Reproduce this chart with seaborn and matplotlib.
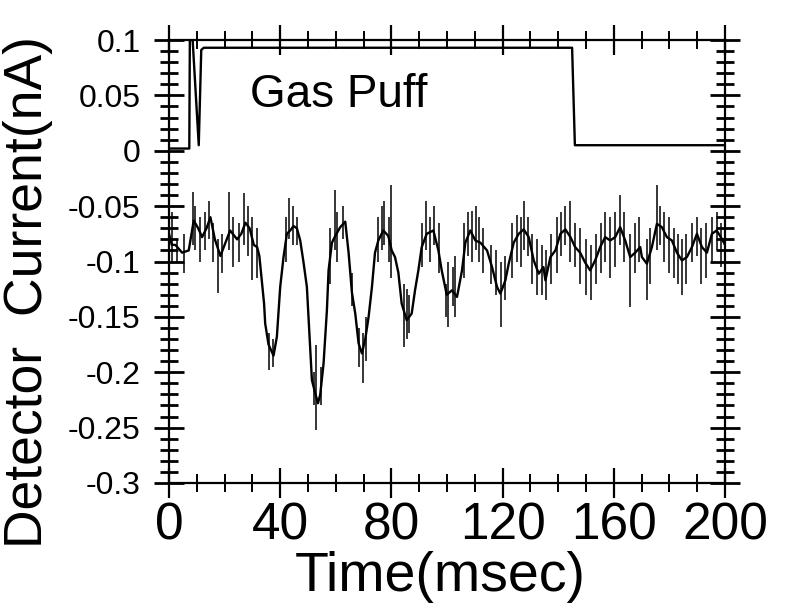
import matplotlib
matplotlib.use("Agg")
import matplotlib.pyplot as plt
import seaborn as sns
import pandas as pd
from matplotlib.ticker import MultipleLocator, FixedLocator, FixedFormatter

# ---------------- data ----------------
puff_t = [0, 7.3, 7.5, 8.5, 10.7, 11.6, 12.5, 145.0, 146.0, 200]
puff_v = [0.002, 0.002, 0.1, 0.1, 0.005, 0.091, 0.093, 0.093, 0.005, 0.005]

det_t = [0, 1, 2.3, 4.7, 7.1, 8.9, 10.5, 11.9, 13.5, 14.9, 16.5, 18.5, 20, 22,
         24.5, 26, 27.5, 29, 30.5, 31.7, 32.5, 33.3, 34.2, 34.6, 35.8, 36.7,
         37.6, 38.8, 40, 41.2, 42.4, 43.6, 44.8, 46, 47.2, 48.4, 49.6, 50.8,
         51.4, 52.6, 53.6, 54.4, 55.6, 56.8, 57.4, 58.6, 59.8, 61.6, 63.4,
         64.6, 65.8, 67, 68.2, 69.4, 70.6, 71.8, 73, 74.1, 75.3, 77.1, 78.9,
         80.1, 81.3, 82.5, 83.7, 85.5, 87.3, 88.5, 89.7, 90.9, 92.7, 95.1,
         96.9, 98.1, 99.9, 101.8, 103.6, 105.4, 106.6, 108.4, 110.2, 112,
         114.4, 116.2, 118, 119.2, 121, 122.2, 124, 125.8, 127.6, 129.4, 131.2,
         133, 134.7, 135.4, 137.2, 139, 140.8, 142.6, 144.4, 146.1, 147.9,
         149.7, 151.5, 153.3, 155.1, 156.9, 158.7, 160.5, 162.3, 164.1, 165.9,
         167.7, 169.5, 170.1, 171.9, 173.7, 175.5, 177.3, 179.1, 180.9, 182.7,
         184.5, 186.3, 188.1, 189.9, 191.7, 193.5, 195.3, 197, 199, 200]
det_v = [-0.075, -0.085, -0.085, -0.092, -0.09, -0.063, -0.07, -0.078, -0.07,
         -0.06, -0.08, -0.095, -0.085, -0.072, -0.08, -0.075, -0.065, -0.07,
         -0.085, -0.087, -0.095, -0.115, -0.138, -0.156, -0.175, -0.18, -0.185,
         -0.168, -0.123, -0.096, -0.075, -0.072, -0.068, -0.07, -0.081, -0.101,
         -0.123, -0.18, -0.207, -0.219, -0.228, -0.22, -0.192, -0.144, -0.108,
         -0.083, -0.077, -0.069, -0.064, -0.092, -0.128, -0.147, -0.174, -0.183,
         -0.17, -0.15, -0.123, -0.092, -0.081, -0.072, -0.077, -0.09, -0.096,
         -0.11, -0.138, -0.153, -0.147, -0.126, -0.108, -0.087, -0.075, -0.072,
         -0.09, -0.108, -0.13, -0.126, -0.132, -0.108, -0.083, -0.072, -0.081,
         -0.083, -0.09, -0.105, -0.123, -0.129, -0.117, -0.102, -0.083, -0.075,
         -0.071, -0.078, -0.099, -0.111, -0.105, -0.117, -0.096, -0.09, -0.075,
         -0.071, -0.078, -0.087, -0.092, -0.101, -0.108, -0.099, -0.087, -0.078,
         -0.081, -0.078, -0.069, -0.081, -0.096, -0.092, -0.087, -0.096, -0.102,
         -0.087, -0.066, -0.069, -0.078, -0.081, -0.092, -0.099, -0.096, -0.087,
         -0.075, -0.087, -0.092, -0.075, -0.072, -0.08, -0.085]

# noise spikes: time, low end, high end
spike_t = [1, 3, 5.5, 8.5, 9.5, 11, 13, 14.5, 16, 17.5, 19, 21.5, 23, 25, 27,
           28.5, 30, 31.5, 36, 37.5, 42, 43, 44.5, 46, 52.2, 53, 54.5, 58,
           59.6, 60.5, 62.5, 66, 68.5, 69.8, 71, 75, 76.5, 77.5, 79, 80, 84.5,
           85.5, 86.5, 91, 92.5, 94, 95.5, 97, 99.5, 100.3, 102, 103, 106,
           107.5, 109, 110.5, 111.5, 113, 116, 117.5, 119.5, 121, 123.5, 125,
           126.5, 127.8, 129, 130.5, 132.5, 134, 135.5, 137.5, 139.5, 141,
           142.5, 144.3, 146, 148, 150, 151.7, 153.5, 155.5, 157, 158.5, 160.5,
           162.3, 163.5, 166, 167.5, 169, 171.9, 173, 175.5, 176.5, 178, 180,
           181.5, 183, 184.5, 186, 188, 190, 191.5, 193.3, 195.3, 197, 198.5]
spike_lo = [-0.1, -0.1, -0.11, -0.085, -0.09, -0.1, -0.09, -0.08, -0.1, -0.128,
            -0.11, -0.09, -0.105, -0.1, -0.085, -0.095, -0.117, -0.115, -0.198,
            -0.195, -0.1, -0.08, -0.085, -0.085, -0.23, -0.252, -0.23, -0.12,
            -0.09, -0.1, -0.08, -0.14, -0.195, -0.21, -0.19, -0.1, -0.09,
            -0.085, -0.1, -0.115, -0.177, -0.17, -0.165, -0.105, -0.09, -0.1,
            -0.085, -0.11, -0.15, -0.159, -0.14, -0.15, -0.115, -0.095, -0.1,
            -0.09, -0.1, -0.11, -0.12, -0.13, -0.159, -0.135, -0.115, -0.1,
            -0.105, -0.09, -0.095, -0.12, -0.13, -0.13, -0.135, -0.12, -0.11,
            -0.095, -0.085, -0.1, -0.105, -0.12, -0.13, -0.135, -0.12, -0.11,
            -0.1, -0.115, -0.105, -0.085, -0.1, -0.141, -0.11, -0.1, -0.135,
            -0.12, -0.09, -0.085, -0.1, -0.11, -0.115, -0.12, -0.13, -0.12,
            -0.1, -0.095, -0.12, -0.115, -0.1, -0.09, -0.105]
spike_hi = [-0.055, -0.08, -0.075, -0.037, -0.05, -0.06, -0.055, -0.045, -0.065,
            -0.08, -0.075, -0.037, -0.06, -0.065, -0.038, -0.05, -0.06, -0.07,
            -0.165, -0.17, -0.06, -0.043, -0.05, -0.06, -0.2, -0.175, -0.195,
            -0.07, -0.035, -0.055, -0.05, -0.11, -0.16, -0.165, -0.15, -0.06,
            -0.05, -0.045, -0.06, -0.031, -0.12, -0.125, -0.13, -0.065, -0.045,
            -0.06, -0.05, -0.065, -0.12, -0.1, -0.105, -0.095, -0.065, -0.055,
            -0.054, -0.05, -0.06, -0.07, -0.085, -0.09, -0.1, -0.095, -0.065,
            -0.058, -0.06, -0.045, -0.06, -0.075, -0.08, -0.085, -0.09, -0.075,
            -0.06, -0.055, -0.05, -0.045, -0.065, -0.07, -0.08, -0.085, -0.075,
            -0.065, -0.055, -0.06, -0.055, -0.04, -0.055, -0.075, -0.065, -0.06,
            -0.08, -0.07, -0.031, -0.05, -0.055, -0.06, -0.07, -0.075, -0.08,
            -0.075, -0.065, -0.06, -0.07, -0.065, -0.06, -0.055, -0.065]

x_ticks = [0, 40, 80, 120, 160, 200]
x_tick_labels = ["0", "40", "80", "120", "160", "200"]
y_ticks = [0.1, 0.05, 0, -0.05, -0.1, -0.15, -0.2, -0.25, -0.3]
y_tick_labels = ["0.1", "0.05", "0", "-0.05", "-0.1", "-0.15", "-0.2", "-0.25", "-0.3"]

# ---------------- plotting ----------------
sns.set_theme(style="white")
plt.rcParams['font.family'] = ['Liberation Sans', 'DejaVu Sans']

W, H = 785, 609
fig = plt.figure(figsize=(W / 100, H / 100), dpi=100)
L, R, T, B = 169, 725, 40, 483
ax = fig.add_axes([L / W, 1 - B / H, (R - L) / W, (B - T) / H])

puff_df = pd.DataFrame({"t": puff_t, "v": puff_v})
det_df = pd.DataFrame({"t": det_t, "v": det_v})

ax.vlines(spike_t, spike_lo, spike_hi, color="black", lw=1.1)
sns.lineplot(data=det_df, x="t", y="v", ax=ax, color="black", lw=1.7,
             estimator=None, sort=False)
sns.lineplot(data=puff_df, x="t", y="v", ax=ax, color="black", lw=1.7,
             estimator=None, sort=False)

ax.text(61, 0.050, "Gas Puff", fontsize=33, ha="center", va="center", color="black")

ax.set_xlim(0, 200)
ax.set_ylim(-0.3, 0.1)
ax.xaxis.set_major_locator(FixedLocator(x_ticks))
ax.xaxis.set_major_formatter(FixedFormatter(x_tick_labels))
ax.xaxis.set_minor_locator(MultipleLocator(10))
ax.yaxis.set_major_locator(FixedLocator(y_ticks))
ax.yaxis.set_major_formatter(FixedFormatter(y_tick_labels))
ax.yaxis.set_minor_locator(MultipleLocator(0.01))

for s in ax.spines.values():
    s.set_linewidth(1.6)
    s.set_color("black")

ax.tick_params(axis="both", which="both", direction="inout", colors="black",
               top=True, right=True, bottom=True, left=True)
ax.tick_params(axis="x", which="major", length=21, width=1.6, labelsize=37, pad=3)
ax.tick_params(axis="x", which="minor", length=13, width=1.4)
ax.tick_params(axis="y", which="major", length=21, width=2.0, labelsize=23, pad=10)
ax.tick_params(axis="y", which="minor", length=13, width=2.0)

ax.set_xlabel("Time(msec)", fontsize=40, color="black")
ax.xaxis.set_label_coords((440 - L) / (R - L), (B - 577) / (B - T))
ax.xaxis.label.set_va("center")
ax.set_ylabel("Detector  Current(nA)", fontsize=38.5, color="black")
ax.yaxis.set_label_coords((28 - L) / (R - L), (B - 292) / (B - T))
ax.yaxis.label.set_va("center")

ax.set_facecolor("white")
fig.patch.set_facecolor("white")
fig.savefig("out.png", dpi=100)
